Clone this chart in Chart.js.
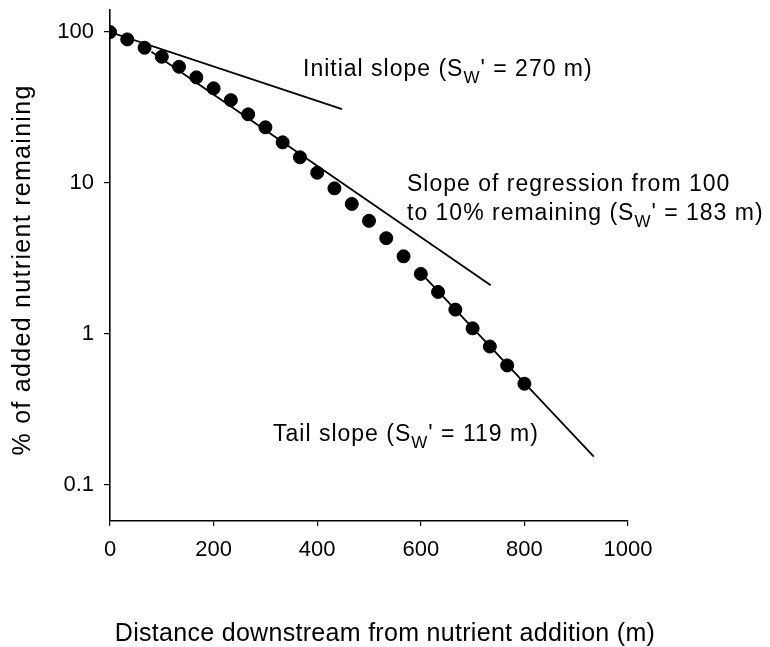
<!DOCTYPE html>
<html>
<head>
<meta charset="utf-8">
<script src="https://cdn.jsdelivr.net/npm/chart.js@4.4.1/dist/chart.umd.min.js"></script>
<style>
  html, body { margin: 0; padding: 0; background: #ffffff; }
  #wrap { width: 770px; height: 647px; }
</style>
</head>
<body>
<div id="wrap"><canvas id="c" width="770" height="647"></canvas></div>
<script>
// ---- data ----
const distances = [0, 33.3, 66.7, 100, 133.3, 166.7, 200, 233.3, 266.7, 300, 333.3, 366.7, 400,
                   433.3, 466.7, 500, 533.3, 566.7, 600, 633.3, 666.7, 700, 733.3, 766.7, 800];
const remaining = [100, 89.4, 78.7, 68.6, 58.9, 50.1, 42.4, 35.4, 28.5, 23.4, 18.6, 14.8, 11.7,
                   9.22, 7.27, 5.62, 4.31, 3.27, 2.50, 1.90, 1.45, 1.09, 0.826, 0.619, 0.468];
const initialSlopeX = [0, 448];
const initialSlopeY = [100, 30.9];
const regressionX = [80, 735];
const regressionY = [74, 2.1];
const tailX = [600, 934];
const tailY = [2.54, 0.154];
const xTickValues = [0, 200, 400, 600, 800, 1000];
const yTickValues = [0.1, 1, 10, 100];
const xTitle = 'Distance downstream from nutrient addition (m)';
const yTitle = '% of added nutrient remaining';
const labelInitial = ['Initial slope (S', 'W', "' = 270 m)"];
const labelRegression1 = 'Slope of regression from 100';
const labelRegression2 = ['to 10% remaining (S', 'W', "' = 183 m)"];
const labelTail = ['Tail slope (S', 'W', "' = 119 m)"];

const pts = (xs, ys) => xs.map((x, i) => ({ x: x, y: ys[i] }));

const FONT = '"Liberation Sans", Arial, sans-serif';

function drawRich(ctx, x, y, parts, size, spacing) {
  ctx.save();
  ctx.fillStyle = '#000';
  ctx.textBaseline = 'middle';
  ctx.textAlign = 'left';
  if ('letterSpacing' in ctx) ctx.letterSpacing = spacing + 'px';
  let cx = x;
  parts.forEach((p, i) => {
    const sub = (i % 2 === 1);
    ctx.font = (sub ? Math.round(size * 0.72) : size) + 'px ' + FONT;
    ctx.fillText(p, cx, sub ? y + size * 0.38 : y);
    cx += ctx.measureText(p).width;
  });
  ctx.restore();
}

const annotate = {
  id: 'annotate',
  afterDraw(chart) {
    const ctx = chart.ctx;
    drawRich(ctx, 303, 70, labelInitial, 23, 1);
    drawRich(ctx, 407, 185, [labelRegression1], 23, 1);
    drawRich(ctx, 407, 214, labelRegression2, 23, 1);
    drawRich(ctx, 273, 435, labelTail, 23, 1);
    ctx.save();
    ctx.fillStyle = '#000';
    ctx.font = '25px ' + FONT;
    ctx.textAlign = 'center';
    ctx.textBaseline = 'middle';
    if ('letterSpacing' in ctx) ctx.letterSpacing = '0.3px';
    ctx.fillText(xTitle, 385, 634);
    ctx.translate(23, 270);
    ctx.rotate(-Math.PI / 2);
    if ('letterSpacing' in ctx) ctx.letterSpacing = '1.3px';
    ctx.fillText(yTitle, 0, 0);
    ctx.restore();
  }
};

new Chart(document.getElementById('c'), {
  type: 'scatter',
  data: {
    datasets: [
      { label: 'Data', data: pts(distances, remaining), backgroundColor: '#000', borderColor: '#000',
        pointRadius: 6.5, pointHoverRadius: 6.5, showLine: false, order: 1 },
      { label: 'Initial slope', data: pts(initialSlopeX, initialSlopeY), showLine: true, borderColor: '#000',
        borderWidth: 1.8, pointRadius: 0, fill: false, order: 2 },
      { label: 'Regression 100-10%', data: pts(regressionX, regressionY), showLine: true, borderColor: '#000',
        borderWidth: 1.8, pointRadius: 0, fill: false, order: 2 },
      { label: 'Tail slope', data: pts(tailX, tailY), showLine: true, borderColor: '#000',
        borderWidth: 1.8, pointRadius: 0, fill: false, order: 2 }
    ]
  },
  options: {
    responsive: false,
    animation: false,
    layout: { padding: { left: 0, top: 10, right: 142, bottom: 0 } },
    plugins: { legend: { display: false }, tooltip: { enabled: false } },
    scales: {
      x: {
        type: 'linear', min: 0, max: 1000,
        afterBuildTicks: s => { s.ticks = xTickValues.map(v => ({ value: v })); },
        afterFit: s => { s.height = 126; s.paddingLeft = 0; s.paddingRight = 0; },
        border: { display: true, color: '#000', width: 1.6 },
        grid: { display: true, drawOnChartArea: false, drawTicks: true, tickLength: 5, color: '#000', lineWidth: 1.2 },
        ticks: { color: '#000', font: { family: FONT, size: 22 }, padding: 11, maxRotation: 0,
                 callback: v => String(v) },
        title: { display: false }
      },
      y: {
        type: 'logarithmic', min: 0.0577, max: 140,
        afterBuildTicks: s => { s.ticks = yTickValues.map(v => ({ value: v })); },
        afterFit: s => { s.width = 110; s.paddingTop = 0; s.paddingBottom = 0; },
        border: { display: true, color: '#000', width: 1.6 },
        grid: { display: true, drawOnChartArea: false, drawTicks: true, tickLength: 6, color: '#000', lineWidth: 1.2 },
        ticks: { color: '#000', font: { family: FONT, size: 22 }, padding: 10,
                 callback: v => String(v) },
        title: { display: false }
      }
    }
  },
  plugins: [annotate]
});
</script>
</body>
</html>
